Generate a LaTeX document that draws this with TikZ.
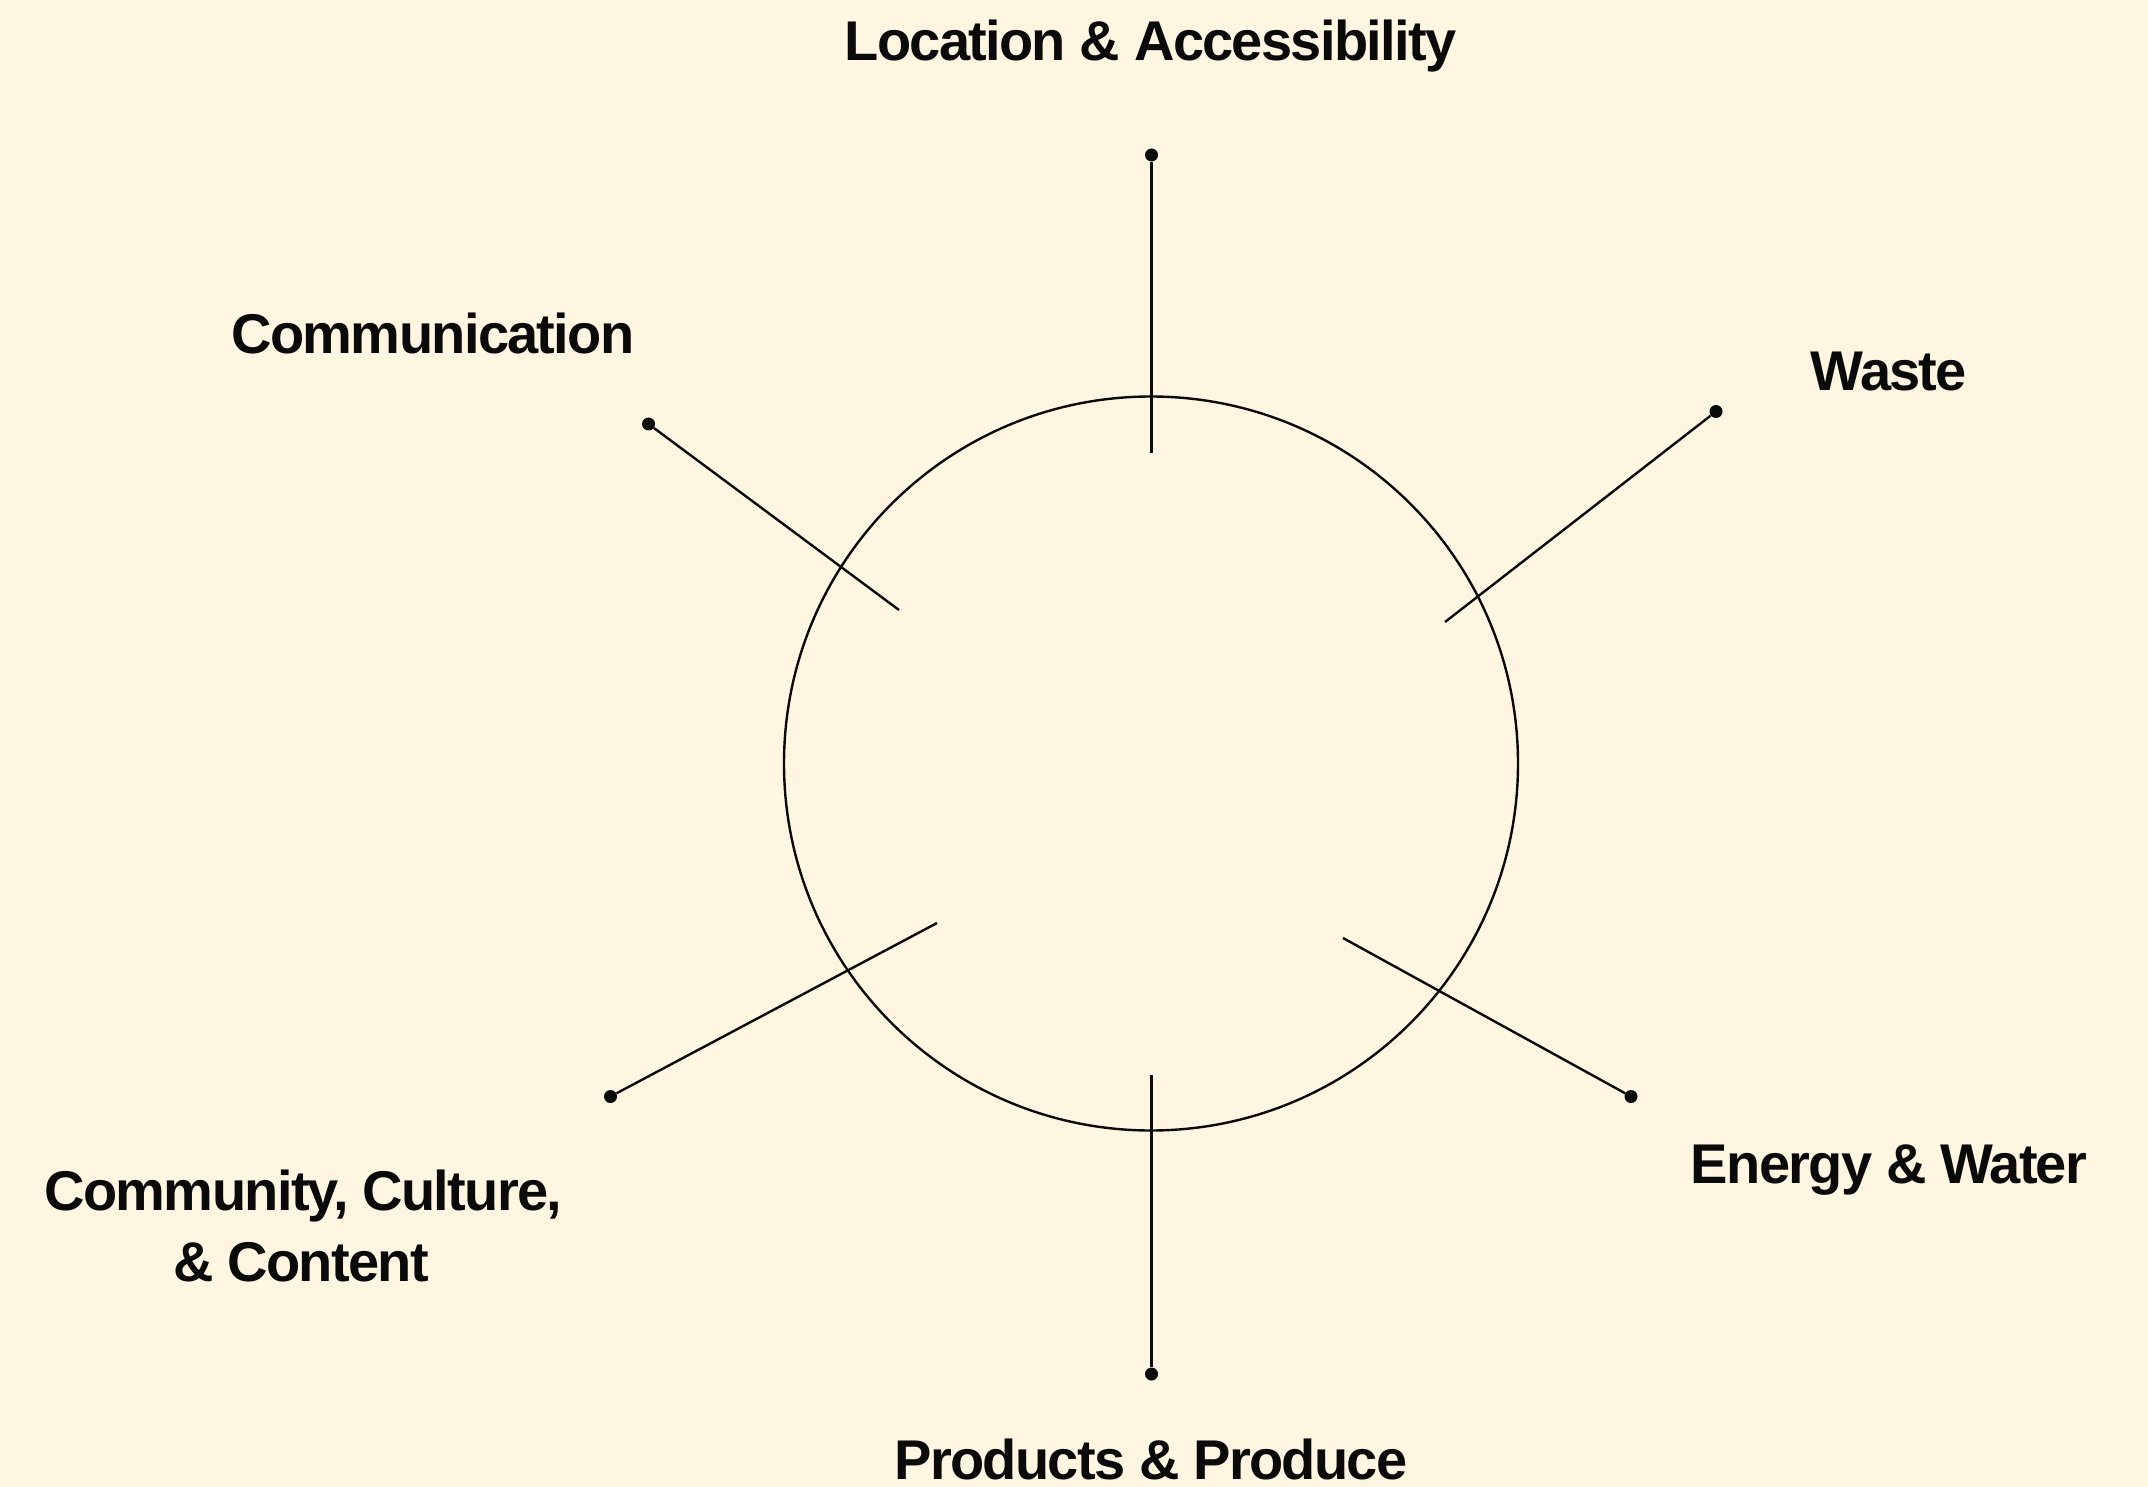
\documentclass[tikz,border=0pt]{standalone}
\usepackage{fontspec}
\newfontfamily\lblfont{Liberation Sans}[LetterSpace=-3]
\definecolor{bgcream}{HTML}{FFF6E2}
\definecolor{inkc}{HTML}{0A0A0A}
\begin{document}
\begin{tikzpicture}[x=1pt,y=-1pt,
  spoke/.style={draw=inkc,line width=2.4pt},
  pin/.style={circle,fill=inkc,inner sep=0pt,minimum size=13pt},
  lbl/.style={inner sep=0pt,anchor=base,text=inkc,font=\lblfont\bfseries\fontsize{56}{71}\selectfont}]
\useasboundingbox (0,0) rectangle (2148,1487);
\fill[bgcream] (0,0) rectangle (2148,1487);
% ring
\node[circle,draw=inkc,line width=2.4pt,minimum size=734pt,inner sep=0pt] (ring) at (1151,763.5) {};
% pins
\node[pin] (pT) at (1151.5,155) {};
\node[pin] (pW) at (1716,411.5) {};
\node[pin] (pC) at (648.5,424) {};
\node[pin] (pE) at (1631,1096.5) {};
\node[pin] (pK) at (610.5,1096.5) {};
\node[pin] (pB) at (1151.5,1374) {};
% inner ends
\coordinate (iT) at (1151.5,453);
\coordinate (iW) at (1445,622);
\coordinate (iC) at (899,610);
\coordinate (iE) at (1343,938);
\coordinate (iK) at (937,923);
\coordinate (iB) at (1151.5,1075);
\draw[spoke] (iT) -- (pT);
\draw[spoke] (iW) -- (pW);
\draw[spoke] (iC) -- (pC);
\draw[spoke] (iE) -- (pE);
\draw[spoke] (iK) -- (pK);
\draw[spoke] (iB) -- (pB);
% labels
\node[lbl] (lT) at (1150.5,61) {Location \& Accessibility};
\node[lbl] (lC) at (433,354) {Communication};
\node[lbl] (lW) at (1889,391) {Waste};
\node[lbl] (lE) at (1889,1183) {Energy \& Water};
\node[lbl] (lK1) at (303.5,1210) {Community, Culture,};
\node[lbl] (lK2) at (301,1281) {\& Content};
\node[lbl] (lB) at (1151,1479) {Products \& Produce};
\end{tikzpicture}
\end{document}
